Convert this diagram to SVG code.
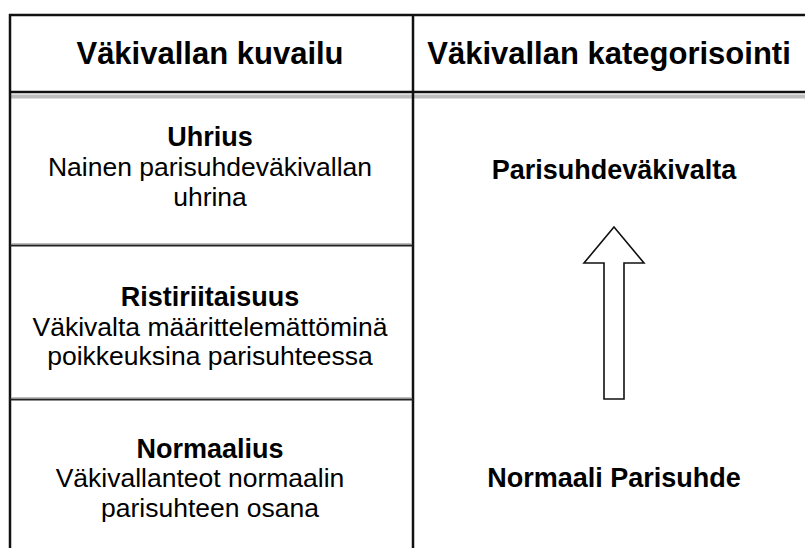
<svg xmlns="http://www.w3.org/2000/svg" width="805" height="548" viewBox="0 0 805 548">
<style>
.hdr{font-family:"Liberation Sans",Arial,sans-serif;font-weight:bold;font-size:31px;fill:#000;text-anchor:middle}
.ttl{font-family:"Liberation Sans",Arial,sans-serif;font-weight:bold;font-size:27px;fill:#000;text-anchor:middle}
.txt{font-family:"Liberation Sans",Arial,sans-serif;font-size:26.5px;fill:#000;text-anchor:middle}
.grid{stroke:#111;stroke-width:2.5;fill:none}
.div{stroke:#222;stroke-width:2;fill:none}
.shade{stroke:#bdbdbd;fill:none}
.arrow{fill:#fff;stroke:#111;stroke-width:1.6;stroke-linejoin:miter}
</style>
<rect width="805" height="548" fill="#fff"/>
<g id="table">
  <line class="shade" x1="11" y1="96.5" x2="805" y2="96.5" stroke-width="4"/>
  <line class="grid" x1="9" y1="15" x2="805" y2="15"/>
  <line class="grid" x1="10" y1="14" x2="10" y2="548"/>
  <line class="grid" x1="413" y1="14" x2="413" y2="548"/>
  <line class="grid" x1="9" y1="92" x2="805" y2="92"/>
  <line class="shade" x1="11" y1="243.5" x2="412" y2="243.5" stroke-width="1"/>
  <line class="div" x1="10" y1="245.5" x2="413" y2="245.5"/>
  <line class="shade" x1="11" y1="397.5" x2="412" y2="397.5" stroke-width="1"/>
  <line class="div" x1="10" y1="399.5" x2="413" y2="399.5"/>
</g>
<g id="header-left">
  <text class="hdr" x="210" y="64">Väkivallan kuvailu</text>
</g>
<g id="header-right">
  <text class="hdr" x="609" y="64">Väkivallan kategorisointi</text>
</g>
<g id="uhrius">
  <text class="ttl" x="210" y="146">Uhrius</text>
  <text class="txt" x="210" y="176">Nainen parisuhdeväkivallan</text>
  <text class="txt" x="210" y="206">uhrina</text>
</g>
<g id="ristiriitaisuus">
  <text class="ttl" x="210" y="306">Ristiriitaisuus</text>
  <text class="txt" x="210" y="336">Väkivalta määrittelemättöminä</text>
  <text class="txt" x="210" y="365">poikkeuksina parisuhteessa</text>
</g>
<g id="normaalius">
  <text class="ttl" x="210" y="458">Normaalius</text>
  <text class="txt" x="200" y="487">Väkivallanteot normaalin</text>
  <text class="txt" x="210" y="517">parisuhteen osana</text>
</g>
<g id="parisuhdevakivalta">
  <text class="ttl" x="614" y="179">Parisuhdeväkivalta</text>
</g>
<g id="normaali-parisuhde">
  <text class="ttl" x="614" y="487">Normaali Parisuhde</text>
</g>
<g id="connectors">
  <polygon class="arrow" points="614,227 644,263 624,263 624,399 604,399 604,263 584,263"/>
</g>
</svg>
